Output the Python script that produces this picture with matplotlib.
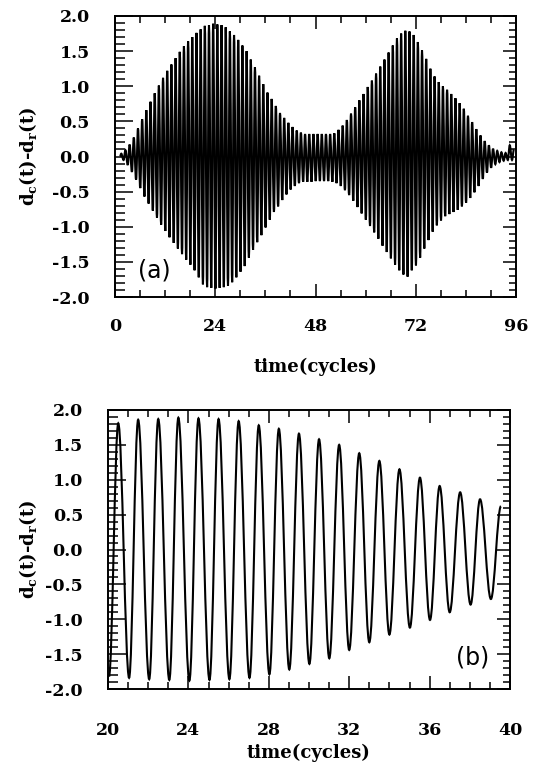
import numpy as np
import matplotlib
matplotlib.use("Agg")
import matplotlib.pyplot as plt
from matplotlib.path import Path
from matplotlib.patches import PathPatch
from matplotlib.ticker import MultipleLocator, FixedLocator, FormatStrFormatter

plt.rcParams["mathtext.fontset"] = "dejavuserif"

# ---------------- data ----------------
# Panel (a): successive extrema of d_c(t)-d_r(t) (cycles, value)
a_start = (1.2, 0.0)
a_peak_t = [k + 0.5 for k in range(1, 96)]        # maxima times
a_peak_v = [0.04, 0.09, 0.17, 0.27, 0.40, 0.53, 0.66, 0.78, 0.90, 1.01,
            1.12, 1.22, 1.31, 1.40, 1.49, 1.57, 1.64, 1.70, 1.76, 1.81,
            1.86, 1.87, 1.89, 1.88, 1.87, 1.84, 1.78, 1.73, 1.66, 1.58,
            1.50, 1.38, 1.27, 1.15, 1.03, 0.91, 0.82, 0.72, 0.62, 0.55,
            0.48, 0.42, 0.37, 0.34, 0.32, 0.32, 0.32, 0.32, 0.32, 0.32,
            0.32, 0.33, 0.38, 0.44, 0.52, 0.61, 0.70, 0.80, 0.89, 0.99,
            1.08, 1.18, 1.28, 1.38, 1.48, 1.58, 1.68, 1.75, 1.79, 1.78,
            1.73, 1.63, 1.51, 1.39, 1.25, 1.14, 1.06, 1.00, 0.95, 0.89,
            0.83, 0.76, 0.68, 0.58, 0.49, 0.39, 0.30, 0.22, 0.16, 0.11,
            0.08, 0.06, 0.05, 0.16, 0.10]
a_trough_t = [k + 0.05 for k in range(2, 96)]     # minima times
a_trough_v = [-0.05, -0.12, -0.22, -0.33, -0.45, -0.57, -0.67, -0.77, -0.87, -0.97,
              -1.06, -1.15, -1.23, -1.31, -1.39, -1.47, -1.54, -1.62, -1.72, -1.82,
              -1.86, -1.87, -1.88, -1.87, -1.86, -1.84, -1.79, -1.72, -1.64, -1.56,
              -1.44, -1.33, -1.22, -1.12, -1.01, -0.90, -0.79, -0.71, -0.62, -0.54,
              -0.47, -0.42, -0.38, -0.36, -0.36, -0.36, -0.35, -0.35, -0.35, -0.35,
              -0.36, -0.38, -0.42, -0.48, -0.55, -0.63, -0.72, -0.81, -0.90, -0.99,
              -1.08, -1.17, -1.27, -1.36, -1.45, -1.54, -1.62, -1.68, -1.71, -1.62,
              -1.55, -1.44, -1.31, -1.19, -1.07, -0.98, -0.91, -0.85, -0.82, -0.79,
              -0.76, -0.71, -0.66, -0.59, -0.51, -0.42, -0.32, -0.23, -0.16, -0.11,
              -0.08, -0.06, -0.05, -0.05]

# Panel (b): extrema between 20 and 40 cycles
b_t = [20.05, 20.51, 21.05, 21.50, 22.05, 22.50, 23.05, 23.50, 24.05, 24.50,
       25.05, 25.50, 26.04, 26.50, 27.04, 27.50, 28.03, 28.50, 29.02, 29.50,
       30.02, 30.50, 31.01, 31.50, 32.00, 32.50, 33.00, 33.50, 34.00, 34.50,
       35.02, 35.52, 36.02, 36.50, 37.00, 37.52, 38.04, 38.51, 39.05, 39.55]
b_v = [-1.82, 1.81, -1.84, 1.86, -1.86, 1.87, -1.87, 1.89, -1.88, 1.88,
       -1.87, 1.87, -1.86, 1.84, -1.84, 1.78, -1.79, 1.73, -1.72, 1.66,
       -1.64, 1.58, -1.56, 1.50, -1.44, 1.38, -1.33, 1.27, -1.22, 1.15,
       -1.12, 1.03, -1.01, 0.91, -0.90, 0.82, -0.79, 0.72, -0.71, 0.62]

a_xticks = [0, 24, 48, 72, 96]
b_xticks = [20, 24, 28, 32, 36, 40]
ylabel = r"d$_\mathbf{c}$(t)-d$_\mathbf{r}$(t)"
xlabel = "time(cycles)"


def smooth_path(ts, vs):
    """Smooth curve through extrema (horizontal tangents at each extremum)."""
    k = 1 - 2 / np.pi
    verts = [(ts[0], vs[0])]
    codes = [Path.MOVETO]
    for i in range(len(ts) - 1):
        dt = ts[i + 1] - ts[i]
        verts += [(ts[i] + k * dt, vs[i]), (ts[i + 1] - k * dt, vs[i + 1]),
                  (ts[i + 1], vs[i + 1])]
        codes += [Path.CURVE4] * 3
    return Path(verts, codes)


TICKFONT = dict(family="DejaVu Serif", weight="bold", size=12.5)

fig = plt.figure(figsize=(5.37, 7.69), dpi=100)
ax1 = fig.add_axes([115 / 537, 1 - 297 / 769, 401 / 537, 281 / 769])
ax2 = fig.add_axes([108 / 537, 1 - 689 / 769, 402 / 537, 279 / 769])


def style(ax, xmaj, xminor, xpad):
    ax.set_ylim(-2.0, 2.0)
    ax.yaxis.set_major_locator(MultipleLocator(0.5))
    ax.yaxis.set_minor_locator(MultipleLocator(0.1))
    ax.yaxis.set_major_formatter(FormatStrFormatter("%.1f"))
    ax.xaxis.set_major_locator(FixedLocator(xmaj))
    ax.xaxis.set_minor_locator(MultipleLocator(xminor))
    ax.xaxis.set_major_formatter(FormatStrFormatter("%d"))
    ax.tick_params(which="both", direction="in", top=True, right=True,
                   width=1.1, color="black")
    ax.tick_params(which="major", length=9.5)
    ax.tick_params(which="minor", length=5)
    ax.tick_params(axis="y", which="major", pad=18)
    ax.tick_params(axis="x", which="major", pad=xpad)
    for s in ax.spines.values():
        s.set_linewidth(1.4)
    for lab in ax.get_xticklabels() + ax.get_yticklabels():
        lab.set_fontproperties(matplotlib.font_manager.FontProperties(**TICKFONT))
    # longer ticks on the left spine
    for t in ax.yaxis.get_major_ticks():
        t.tick1line.set_markersize(13)
    for t in ax.yaxis.get_minor_ticks():
        t.tick1line.set_markersize(7)


# ---- panel (a)
ax1.set_xlim(0, 96)
style(ax1, a_xticks, 6, 15)
pts = [a_start] + sorted(list(zip(a_peak_t, a_peak_v)) + list(zip(a_trough_t, a_trough_v)))
ta = [p[0] for p in pts]
va = [p[1] for p in pts]
ax1.add_patch(PathPatch(smooth_path(ta, va), fill=False, edgecolor="black", lw=1.5))
ax1.set_xlabel(xlabel, family="DejaVu Serif", weight="bold", size=13)
ax1.xaxis.set_label_coords(0.5, -0.215)
ax1.set_ylabel(ylabel, family="DejaVu Serif", weight="bold", size=13)
ax1.yaxis.set_label_coords(-0.19, 0.5)
ax1.text(0.057, 0.093, "(a)", transform=ax1.transAxes, ha="left", va="center",
         family="DejaVu Sans", size=17)

# ---- panel (b)
ax2.set_xlim(20, 40)
style(ax2, b_xticks, 1, 24)
ax2.add_patch(PathPatch(smooth_path(b_t, b_v), fill=False, edgecolor="black", lw=1.5))
ax2.set_xlabel(xlabel, family="DejaVu Serif", weight="bold", size=13)
ax2.xaxis.set_label_coords(0.5, -0.195)
ax2.set_ylabel(ylabel, family="DejaVu Serif", weight="bold", size=13)
ax2.yaxis.set_label_coords(-0.172, 0.5)
ax2.text(0.948, 0.113, "(b)", transform=ax2.transAxes, ha="right", va="center",
         family="DejaVu Sans", size=17)

fig.savefig("out.png", dpi=100)
